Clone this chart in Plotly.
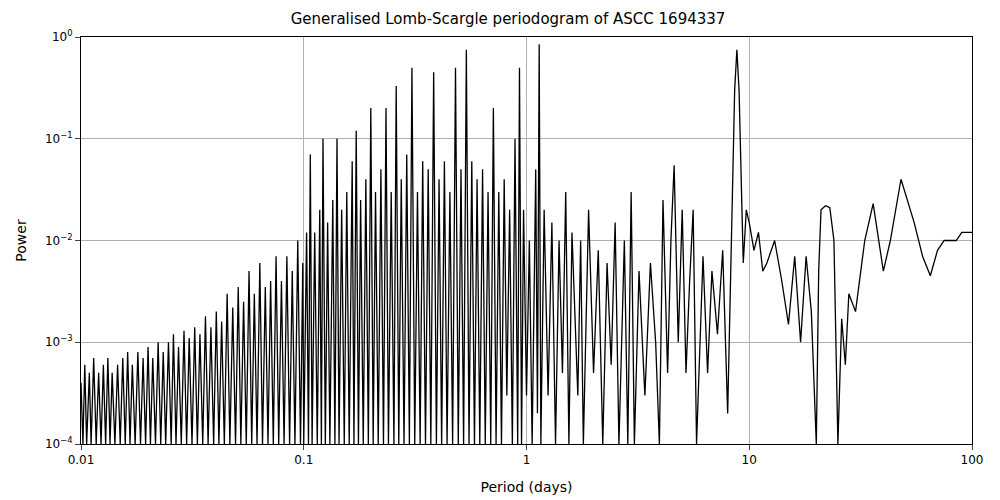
import plotly.graph_objects as go

# periods (days) and power, peaks and dips alternating
period = [
    0.0100, 0.0102, 0.0104, 0.0106, 0.0109, 0.0111, 0.0114, 0.0117, 0.0120, 0.0123,
    0.0126, 0.0129, 0.0132, 0.0135, 0.0138, 0.0142, 0.0146, 0.0150, 0.0154, 0.0158,
    0.0162, 0.0166, 0.0170, 0.0175, 0.0180, 0.0185, 0.0190, 0.0195, 0.0200, 0.0205,
    0.0210, 0.0216, 0.0222, 0.0228, 0.0234, 0.0240, 0.0247, 0.0254, 0.0260, 0.0267,
    0.0274, 0.0282, 0.0290, 0.0298, 0.0306, 0.0315, 0.0324, 0.0333, 0.0342, 0.0352,
    0.0362, 0.0372, 0.0383, 0.0394, 0.0405, 0.0416, 0.0428, 0.0440, 0.0453, 0.0466,
    0.0480, 0.0494, 0.0508, 0.0522, 0.0537, 0.0552, 0.0568, 0.0584, 0.0600, 0.0617,
    0.0635, 0.0653, 0.0672, 0.0691, 0.0710, 0.0730, 0.0751, 0.0772, 0.0794, 0.0816,
    0.0840, 0.0864, 0.0888, 0.0913, 0.0940, 0.0967, 0.0990, 0.1000,
    0.103, 0.105, 0.107, 0.109, 0.112, 0.115, 0.118, 0.120, 0.122, 0.125,
    0.128, 0.131, 0.135, 0.138, 0.141, 0.144, 0.148, 0.152, 0.156, 0.160,
    0.165, 0.168, 0.172, 0.176, 0.180, 0.185, 0.190, 0.195, 0.200, 0.205,
    0.210, 0.216, 0.222, 0.228, 0.234, 0.240, 0.247, 0.254, 0.260, 0.267,
    0.274, 0.282, 0.290, 0.298, 0.306, 0.315, 0.324, 0.333, 0.342, 0.352,
    0.362, 0.372, 0.383, 0.394, 0.405, 0.416, 0.428, 0.440, 0.453, 0.466,
    0.480, 0.494, 0.508, 0.522, 0.537, 0.552, 0.568, 0.584, 0.600, 0.617,
    0.635, 0.653, 0.672, 0.691, 0.710, 0.730, 0.751, 0.772, 0.794, 0.816,
    0.840, 0.864, 0.888, 0.913, 0.930, 0.950, 0.970, 1.00, 1.03, 1.06,
    1.10, 1.12, 1.14, 1.16, 1.20, 1.25, 1.30, 1.35, 1.40, 1.45,
    1.50, 1.55, 1.60, 1.70, 1.75, 1.80, 1.90, 2.00, 2.10, 2.20,
    2.30, 2.40, 2.50, 2.60, 2.75, 2.85, 2.95, 3.05, 3.20, 3.40,
    3.60, 3.80, 3.95, 4.10, 4.30, 4.45, 4.60, 4.80, 5.00, 5.20,
    5.40, 5.60, 5.80, 6.20, 6.50, 6.80, 7.20, 7.60, 8.00, 8.30,
    8.60, 8.80, 9.00, 9.40, 9.70,
    10.0, 10.5, 11.0, 11.5, 12.0, 13.0, 14.0, 15.0, 16.0, 17.0,
    18.0, 19.0, 20.0, 20.5, 21.0, 22.0, 23.0, 24.0, 25.0, 26.0,
    27.0, 28.0, 30.0, 33.0, 36.0, 40.0, 43.0, 48.0, 55.0, 60.0,
    65.0, 70.0, 75.0, 85.0, 90.0, 100.0,
]
power = [
    4e-4, 1e-4, 6e-4, 1e-4, 5e-4, 1e-4, 7e-4, 1e-4, 5e-4, 1e-4,
    6e-4, 1e-4, 7e-4, 1e-4, 5e-4, 1e-4, 6e-4, 1e-4, 7e-4, 1e-4,
    8e-4, 1e-4, 6e-4, 1e-4, 8e-4, 1e-4, 7e-4, 1e-4, 9e-4, 1e-4,
    7e-4, 1e-4, 1e-3, 1e-4, 8e-4, 1e-4, 1e-3, 1e-4, 1.2e-3, 1e-4,
    9e-4, 1e-4, 1.3e-3, 1e-4, 1.1e-3, 1e-4, 1.4e-3, 1e-4, 1.2e-3, 1e-4,
    1.8e-3, 1e-4, 1.4e-3, 1e-4, 2e-3, 1e-4, 1.6e-3, 1e-4, 3e-3, 1e-4,
    2.2e-3, 1e-4, 3.5e-3, 1e-4, 2.5e-3, 1e-4, 5e-3, 1e-4, 3e-3, 1e-4,
    6e-3, 1e-4, 3.5e-3, 1e-4, 4e-3, 1e-4, 7e-3, 1e-4, 4e-3, 1e-4,
    7e-3, 1e-4, 5e-3, 1e-4, 1e-2, 1e-4, 6e-3, 1e-4,
    1.2e-2, 1e-4, 0.07, 1e-4, 0.012, 1e-4, 0.02, 1e-4, 0.1, 1e-4,
    0.015, 1e-4, 0.025, 1e-4, 0.1, 1e-4, 0.02, 1e-4, 0.03, 1e-4,
    0.06, 1e-4, 0.12, 1e-4, 0.025, 1e-4, 0.04, 1e-4, 0.2, 1e-4,
    0.03, 1e-4, 0.05, 1e-4, 0.2, 1e-4, 0.03, 1e-4, 0.33, 1e-4,
    0.04, 1e-4, 0.07, 1e-4, 0.5, 1e-4, 0.03, 1e-4, 0.06, 1e-4,
    0.05, 1e-4, 0.45, 1e-4, 0.04, 1e-4, 0.06, 1e-4, 0.03, 1e-4,
    0.5, 1e-4, 0.05, 1e-4, 0.75, 1e-4, 0.06, 1e-4, 0.04, 1e-4,
    0.05, 1e-4, 0.03, 1e-4, 0.2, 1e-4, 0.03, 1e-4, 0.04, 3e-4,
    0.02, 1e-4, 0.1, 1e-4, 0.5, 1e-4, 0.02, 3e-4, 0.01, 1e-4,
    0.05, 2e-4, 0.85, 1e-4, 0.02, 3e-4, 0.015, 1e-4, 0.01, 5e-4,
    0.03, 1e-4, 0.012, 3e-4, 0.01, 1e-4, 0.02, 5e-4, 0.008, 1e-4,
    0.006, 6e-4, 0.015, 1e-4, 0.01, 1e-4, 0.03, 1e-4, 0.005, 3e-4,
    0.006, 1e-3, 1e-4, 0.025, 5e-4, 0.01, 0.055, 1e-3, 0.02, 5e-4,
    0.004, 0.02, 1e-4, 0.007, 5e-4, 0.005, 1.2e-3, 0.008, 2e-4, 0.01,
    0.3, 0.75, 0.3, 0.006, 0.02,
    0.015, 0.008, 0.012, 0.005, 0.006, 0.01, 0.004, 0.0015, 0.007, 0.001,
    0.007, 0.002, 1e-4, 0.005, 0.02, 0.022, 0.021, 0.01, 1e-4, 0.0017,
    0.0006, 0.003, 0.002, 0.01, 0.023, 0.005, 0.01, 0.04, 0.015, 0.007,
    0.0045, 0.008, 0.01, 0.01, 0.012, 0.012,
]

fig = go.Figure(go.Scatter(x=period, y=power, mode="lines",
                           line=dict(color="black", width=1.3), showlegend=False))

exps = [-4, -3, -2, -1, 0]
axis_common = dict(showline=True, linecolor="black", mirror=True, ticks="outside",
                   gridcolor="#b0b0b0", zeroline=False, tickfont=dict(size=12, color="black"))
fig.update_layout(
    width=1000, height=500,
    margin=dict(l=71, r=36, t=29, b=64),
    plot_bgcolor="white", paper_bgcolor="white",
    font=dict(family="DejaVu Sans", size=12, color="black"),
    title=dict(text="Generalised Lomb-Scargle periodogram of ASCC 1694337",
               x=0.5, xanchor="center", y=0.99, yanchor="top", font=dict(size=15)),
    xaxis=dict(type="log", range=[-2, 2], title="Period (days)",
               tickvals=[0.01, 0.1, 1, 10, 100], ticktext=["0.01", "0.1", "1", "10", "100"],
               **axis_common),
    yaxis=dict(type="log", range=[-4, 0], title="Power",
               tickvals=[10.0 ** e for e in exps],
               ticktext=["10<sup>%s</sup>" % str(e).replace("-", "−") for e in exps],
               **axis_common),
)

fig.write_html("out.html")
